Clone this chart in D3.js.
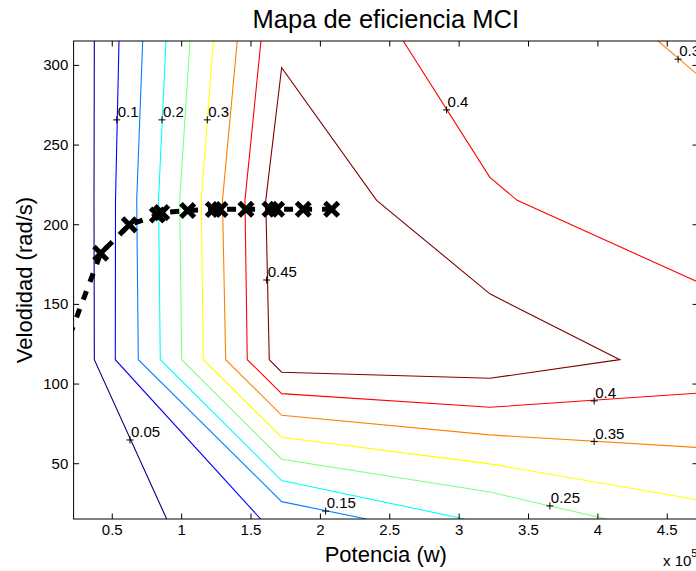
<!DOCTYPE html>
<html>
<head>
<meta charset="utf-8">
<script src="https://cdn.jsdelivr.net/npm/d3@7"></script>
<style>
body { margin: 0; background: #fff; }
svg { font-family: "Liberation Sans", Arial, sans-serif; }
</style>
</head>
<body>
<div id="chart"></div>
<script>
// Contour levels (efficiency) and axis ticks
const levels = [0.05, 0.1, 0.15, 0.2, 0.25, 0.3, 0.35, 0.4, 0.45];
const powerTicks = [50000, 100000, 150000, 200000, 250000, 300000, 350000, 400000, 450000];
const speedTicks = [50, 100, 150, 200, 250, 300];

// Contour lines: [potencia (W), velocidad (rad/s)]
const c005 = [[37430, 315], [37210, 215], [37430, 115], [89590, 15]];
const c010 = [[55220, 315], [52700, 215], [52560, 115], [157310, 15]];
const c015 = [[72300, 315], [67980, 215], [69130, 115], [172440, 25.9], [233680, 15]];
const c020 = [[89080, 315], [83680, 215], [84980, 115], [172440, 39.1], [304500, 15]];
const c025 = [[106380, 315], [98960, 215], [100400, 115], [172440, 52.5], [322520, 31.9], [406590, 15]];
const c030 = [[123160, 315], [114520, 215], [115960, 115], [172440, 66.3], [322520, 49.6], [472370, 27.0]];
const c035 = [[140450, 315], [129790, 215], [132100, 115], [172440, 80.1], [322520, 67.8], [472370, 59.9]];
const c035b = [[443770, 315], [472370, 293.7]];
const c040 = [[157530, 315], [146000, 215], [147660, 115], [172440, 93.7], [322520, 85.1], [472370, 94.0]];
const c040b = [[260050, 315], [322520, 229.4], [342180, 215], [472370, 163.8]];
const c045 = [[163510, 115], [172440, 107.1], [322520, 103.3], [416170, 115], [322520, 156.3],
              [240890, 215], [172440, 298.3], [160990, 215], [163510, 115]];

// Contour labels
const labelLevel = [0.05, 0.1, 0.2, 0.3, 0.4, 0.45, 0.4, 0.35, 0.25, 0.15, 0.35];
const labelPower = [63150, 53570, 86200, 118840, 291320, 161640, 397660, 397660, 365740, 204140, 458180];
const labelSpeed = [64.6, 265.5, 265.5, 265.5, 271.8, 165.0, 89.1, 63.6, 23.2, 20.0, 303.6];

// Operating curve (dashed with x markers)
const curvePower = [15000, 42040, 62640, 82820, 85990, 104720, 123160, 127990, 146720, 164010, 168840, 188000, 208470];
const curveSpeed = [119.2, 181.8, 199.6, 205.8, 207.3, 208.6, 209.3, 209.3, 209.4, 209.4, 209.4, 209.4, 209.4];

const contours = [
    { level: 0.05, pts: c005 }, { level: 0.1, pts: c010 }, { level: 0.15, pts: c015 },
    { level: 0.2, pts: c020 }, { level: 0.25, pts: c025 }, { level: 0.3, pts: c030 },
    { level: 0.35, pts: c035 }, { level: 0.35, pts: c035b }, { level: 0.4, pts: c040 },
    { level: 0.4, pts: c040b }, { level: 0.45, pts: c045 }
];

const width = 696, height = 571;
const plot = { left: 73.6, right: 698, top: 41, bottom: 519 };

const svg = d3.select("#chart")
    .append("svg")
    .attr("width", width)
    .attr("height", height);

const x = d3.scaleLinear().domain([22500, 472500]).range([plot.left, plot.right]);
const y = d3.scaleLinear().domain([15, 315]).range([plot.bottom, plot.top]);

// MATLAB jet colormap
function jet(t) {
    const c = v => Math.max(0, Math.min(1, v));
    const r = c(1.5 - Math.abs(4 * t - 3));
    const g = c(1.5 - Math.abs(4 * t - 2));
    const b = c(1.5 - Math.abs(4 * t - 1));
    return d3.rgb(r * 255, g * 255, b * 255).toString();
}
const levelColor = lev => jet((lev - levels[0]) / (levels[levels.length - 1] - levels[0]));

svg.append("clipPath").attr("id", "clip")
    .append("rect")
    .attr("x", plot.left).attr("y", plot.top)
    .attr("width", plot.right - plot.left).attr("height", plot.bottom - plot.top);

const line = d3.line().x(d => x(d[0])).y(d => y(d[1]));

const area = svg.append("g").attr("clip-path", "url(#clip)");

area.selectAll(".contour")
    .data(contours)
    .enter().append("path")
    .attr("class", "contour")
    .attr("d", d => line(d.pts))
    .attr("fill", "none")
    .attr("stroke", d => levelColor(d.level))
    .attr("stroke-width", 1.1);

// Operating curve
const curve = curvePower.map((p, i) => [p, curveSpeed[i]]);
area.append("path")
    .attr("d", line(curve))
    .attr("fill", "none")
    .attr("stroke", "#000")
    .attr("stroke-width", 5)
    .attr("stroke-dasharray", "9 10");

area.selectAll(".mark")
    .data(curve)
    .enter().append("path")
    .attr("class", "mark")
    .attr("transform", d => `translate(${x(d[0])},${y(d[1])})`)
    .attr("d", "M-5,-5L5,5M-5,5L5,-5")
    .attr("stroke", "#000")
    .attr("stroke-width", 5)
    .attr("stroke-linecap", "square");

// Contour labels
const labels = svg.append("g");
labelLevel.forEach((lev, i) => {
    const px = x(labelPower[i]), py = y(labelSpeed[i]);
    labels.append("path")
        .attr("d", `M${px - 3.5},${py}h7M${px},${py - 3.5}v7`)
        .attr("stroke", "#000")
        .attr("stroke-width", 1);
    labels.append("text")
        .attr("x", px + 1)
        .attr("y", py - 3)
        .attr("font-size", 15)
        .text(String(lev));
});

// Axes (ticks inside, box on)
function styleAxis(g) {
    g.attr("font-family", null).attr("font-size", 15);
    g.select(".domain").remove();
    g.selectAll(".tick line").attr("stroke", "#000");
    g.selectAll(".tick text").attr("fill", "#000");
}

svg.append("g")
    .attr("transform", `translate(0,${plot.bottom})`)
    .call(d3.axisBottom(x).tickValues(powerTicks).tickFormat(d => d / 1e5)
        .tickSizeInner(-5.5).tickSizeOuter(0).tickPadding(5))
    .call(styleAxis);

svg.append("g")
    .attr("transform", `translate(0,${plot.top})`)
    .call(d3.axisTop(x).tickValues(powerTicks).tickFormat("")
        .tickSizeInner(-5.5).tickSizeOuter(0))
    .call(styleAxis);

svg.append("g")
    .attr("transform", `translate(${plot.left},0)`)
    .call(d3.axisLeft(y).tickValues(speedTicks)
        .tickSizeInner(-5.5).tickSizeOuter(0).tickPadding(5.3))
    .call(styleAxis);

svg.append("g")
    .attr("transform", `translate(${plot.right},0)`)
    .call(d3.axisRight(y).tickValues(speedTicks).tickFormat("")
        .tickSizeInner(-5.5).tickSizeOuter(0))
    .call(styleAxis);

svg.append("rect")
    .attr("x", plot.left).attr("y", plot.top)
    .attr("width", plot.right - plot.left).attr("height", plot.bottom - plot.top)
    .attr("fill", "none")
    .attr("stroke", "#000")
    .attr("stroke-width", 1);

// Titles
const cx = (plot.left + plot.right) / 2;
svg.append("text")
    .attr("x", cx).attr("y", 28)
    .attr("text-anchor", "middle")
    .attr("font-size", 25.5)
    .text("Mapa de eficiencia MCI");

svg.append("text")
    .attr("x", cx).attr("y", 561.7)
    .attr("text-anchor", "middle")
    .attr("font-size", 22)
    .text("Potencia (w)");

svg.append("text")
    .attr("transform", `translate(31.5,${(plot.top + plot.bottom) / 2}) rotate(-90)`)
    .attr("text-anchor", "middle")
    .attr("font-size", 22)
    .text("Velodidad (rad/s)");

const mult = svg.append("text")
    .attr("x", 663).attr("y", 566)
    .attr("font-size", 15)
    .text("x 10");
mult.append("tspan")
    .attr("dy", -9)
    .attr("font-size", 11)
    .text("5");
</script>
</body>
</html>
